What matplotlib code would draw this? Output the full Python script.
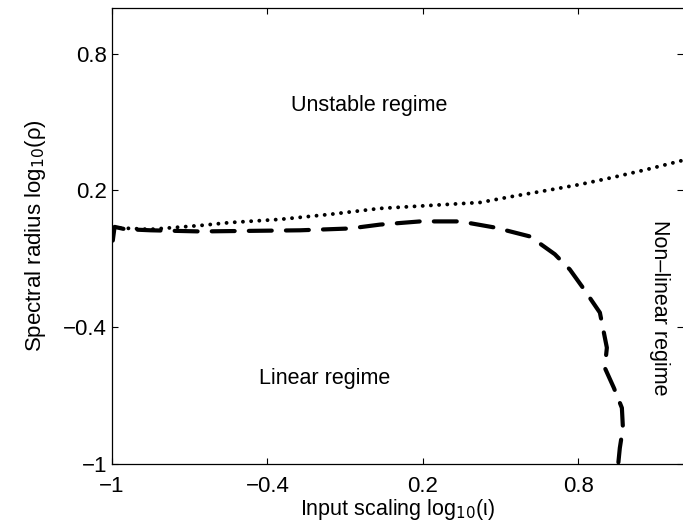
import matplotlib
matplotlib.use('Agg')
import matplotlib.pyplot as plt

plt.rcParams['font.family'] = ['Liberation Sans', 'DejaVu Sans']

# upper curve (dotted): stability boundary
x_dot = [-1.0, -0.853, -0.66, -0.544, -0.351, -0.158, 0.035, 0.228, 0.421,
         0.548, 0.68, 0.807, 0.934, 1.066, 1.205]
y_dot = [0.037, 0.029, 0.046, 0.059, 0.073, 0.095, 0.121, 0.134, 0.147,
         0.174, 0.2, 0.226, 0.257, 0.292, 0.332]

# lower curve (dashed): linear boundary
x_dash = [-0.997, -0.99, -0.95, -0.85, -0.66, -0.274, -0.081, 0.035, 0.19, 0.344,
          0.479, 0.614, 0.71, 0.768, 0.818, 0.884, 0.911, 0.903, 0.938,
          0.969, 0.973, 0.961, 0.954]
y_dash = [-0.02, 0.04, 0.03, 0.025, 0.02, 0.025, 0.033, 0.05, 0.064, 0.064,
          0.037, -0.002, -0.08, -0.147, -0.226, -0.336, -0.49, -0.578, -0.666,
          -0.754, -0.842, -0.93, -1.01]

xticks = [-1, -0.4, 0.2, 0.8]
yticks = [-1, -0.4, 0.2, 0.8]

fig = plt.figure(figsize=(6.83, 5.29), dpi=100)
ax = fig.add_axes([112/683, 65/529, 571/683, 456/529])

ax.plot(x_dot, y_dot, color='black', lw=2.8, linestyle=(0, (0.01, 2.1)),
        dash_capstyle='round')
ax.plot(x_dash, y_dash, color='black', lw=3.0, linestyle=(0, (5.5, 3.4)),
        dash_capstyle='round')

ax.text(-0.008, 0.574, 'Unstable regime', fontsize=15.5, ha='center', va='center')
ax.text(-0.18, -0.626, 'Linear regime', fontsize=15.5, ha='center', va='center')
ax.text(1.116, -0.314, 'Non\u2013linear regime', fontsize=15.5, ha='center',
        va='center', rotation=-90)

ax.set_xlim(-1, 1.205)
ax.set_ylim(-1, 1.0)
ax.set_xticks(xticks)
ax.set_xticklabels(['\u22121', '\u22120.4', '0.2', '0.8'])
ax.set_yticks(yticks)
ax.set_yticklabels(['\u22121', '\u22120.4', '0.2', '0.8'])
ax.tick_params(direction='in', length=4, width=0.8, labelsize=16,
               top=True, right=True)
ax.tick_params(axis='x', pad=9)
ax.spines['right'].set_visible(False)
for s in ['left', 'top', 'bottom']:
    ax.spines[s].set_linewidth(0.9)

ax.set_xlabel('Input scaling log$_{10}$(\u03b9)', fontsize=15.5, labelpad=0)
ax.set_ylabel('Spectral radius log$_{10}$(\u03c1)', fontsize=16, labelpad=11)

fig.savefig('out.png', dpi=100)
